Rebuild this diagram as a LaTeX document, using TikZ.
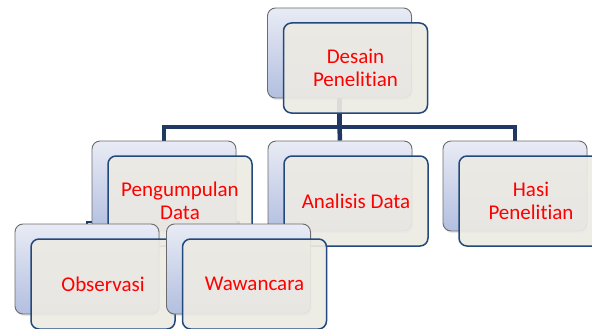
\documentclass[tikz,border=0pt]{standalone}
\usepackage{fontspec}
\setmainfont{Carlito}[RawFeature={-liga}]
\usepackage{xcolor}
\usetikzlibrary{backgrounds,shadows}
\definecolor{linknavy}{HTML}{1F3864}
\definecolor{frameblue}{HTML}{23497C}
\definecolor{paper}{HTML}{ECEAE3}
\definecolor{backtop}{HTML}{E9ECF5}
\definecolor{backbot}{HTML}{B2BFE0}

\begin{document}
\begin{tikzpicture}[x=1pt, y=-1pt,
	backbox/.style={rectangle, draw=gray!85!black, line width=0.9pt, rounded corners=8, minimum width=144, minimum height=90,
		top color=backtop, bottom color=backbot, drop shadow={opacity=0.18, shadow xshift=1pt, shadow yshift=-2pt}},
	frontbox/.style={rectangle, draw=frameblue, line width=1.5pt, rounded corners=8, minimum width=144, minimum height=90,
		fill=paper, fill opacity=0.92, text opacity=1, text=red, align=center, font=\fontsize{21}{23}\selectfont,
		xshift=16pt, yshift=-15pt},
	conn/.style={draw=linknavy, line width=4.5pt},
	subconn/.style={draw=linknavy, line width=2.5pt},
	]
	\useasboundingbox (0,0) rectangle (592,329);

		%Nodes
    \node[backbox]  (desainB)   at (339.5,53)    {};
    \node[frontbox] (desain)    at (desainB)     {Desain\\Penelitian};

    \node[backbox]  (pengB)     at (164,186)     {};
    \node[frontbox] (peng)      at (pengB)       {Pengumpulan\\Data};
    \node[backbox]  (analisisB) at (340,186)     {};
    \node[frontbox] (analisis)  at (analisisB)   {Analisis Data};
    \node[backbox]  (hasilB)    at (515,186)     {};
    \node[frontbox] (hasil)     at (hasilB)      {Hasi\\Penelitian};

    \node[backbox]  (obsB)      at (87,269)      {};
    \node[frontbox] (obs)       at (obsB)        {Observasi};
    \node[backbox]  (wawB)      at (238.5,269)   {};
    \node[frontbox] (waw)       at (wawB)        {Wawancara};

		%Lines
		\begin{scope}[on background layer]
		\coordinate (bus)  at (339.5,127);
		\coordinate (bus2) at (164,222);
		\draw[conn] (desainB.center) -- (bus) -| (pengB.north);
		\draw[conn] (bus) -| (hasilB.north);
		\draw[conn] (bus) -- (analisisB.north);
		\draw[subconn] (pengB.center) -- (bus2) -| (obsB.north);
		\draw[subconn] (bus2) -| (wawB.north);
		\end{scope}
	\end{tikzpicture}
\end{document}
